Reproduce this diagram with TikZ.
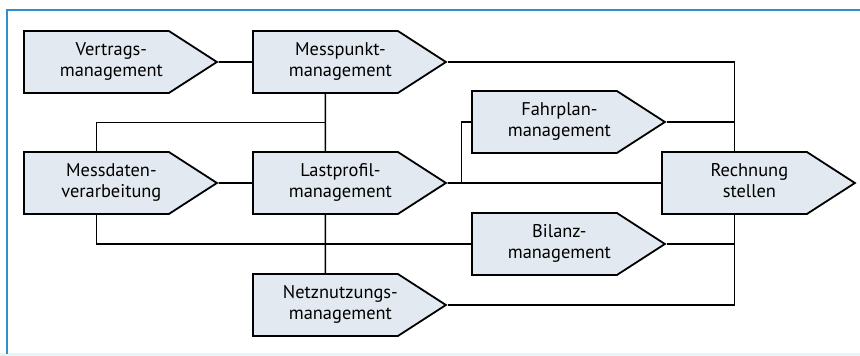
\documentclass[tikz,border=0pt]{standalone}
\usepackage{fontspec}
\setmainfont{PT Sans}
\usepackage{xcolor}
\usepackage{tikz}
\usetikzlibrary{shapes.symbols, positioning, calc}
\definecolor{boxfill}{HTML}{E2E9F0}
\definecolor{frameblue}{HTML}{2E8FD0}
\definecolor{bandcyan}{HTML}{E6F6F6}
\newcommand{\proclabel}[1]{\hspace*{15pt}\raisebox{-1.5pt}{\begin{tabular}{@{}c@{}}#1\end{tabular}}}

\begin{document}
\begin{tikzpicture}[
    x=0.5pt, y=-0.5pt,
    proc/.style={draw, line width=0.9pt, fill=boxfill, shape=signal,
                 signal to=east, signal pointer angle=65.7,
                 minimum width=96.5pt, minimum height=31pt, inner sep=0pt,
                 font=\fontsize{9.2}{10.4}\selectfont, anchor=west},
    link/.style={line width=0.8pt},
]
    \useasboundingbox (0,0) rectangle (860,356);
    % Rahmen
    \fill[bandcyan] (0,353) rectangle (860,356);
    \draw[frameblue, line width=1.4pt] (860,10) -- (7,10) -- (7,354);

    \node[proc] (vertrag)  at (23,62)   {\proclabel{Vertrags-\\management}};
    \node[proc] (messpkt)  at (252,62)  {\proclabel{Messpunkt-\\management}};
    \node[proc] (fahrplan) at (471,122) {\proclabel{Fahrplan-\\management}};
    \node[proc] (messdat)  at (23,183)  {\proclabel{Messdaten-\\verarbeitung}};
    \node[proc] (lastprof) at (252,183) {\proclabel{Lastprofil-\\management}};
    \node[proc] (rechnung) at (661,183) {\proclabel{Rechnung\\stellen}};
    \node[proc] (bilanz)   at (471,244) {\proclabel{Bilanz-\\management}};
    \node[proc] (netz)     at (252,305) {\proclabel{Netznutzungs-\\management}};

    \coordinate (split) at ($(messpkt.south)!0.5!(lastprof.north)$);
    \coordinate (fork)  at ($(lastprof.east)+(14,0)$);

    \foreach \a/\b in {vertrag/messpkt, messdat/lastprof, lastprof/rechnung,
                       messpkt/lastprof, lastprof/netz}
        \draw[link] (\a) -- (\b);
    \draw[link] (messpkt.east) -| (rechnung.north);
    \draw[link] (fahrplan.east) -| (rechnung.north);
    \draw[link] (bilanz.east) -| (rechnung.south);
    \draw[link] (netz.east) -| (rechnung.south);
    \draw[link] (messdat.north) |- (split);
    \draw[link] (messdat.south) |- (bilanz.west);
    \draw[link] (fahrplan.west) -| (fork);
\end{tikzpicture}
\end{document}
